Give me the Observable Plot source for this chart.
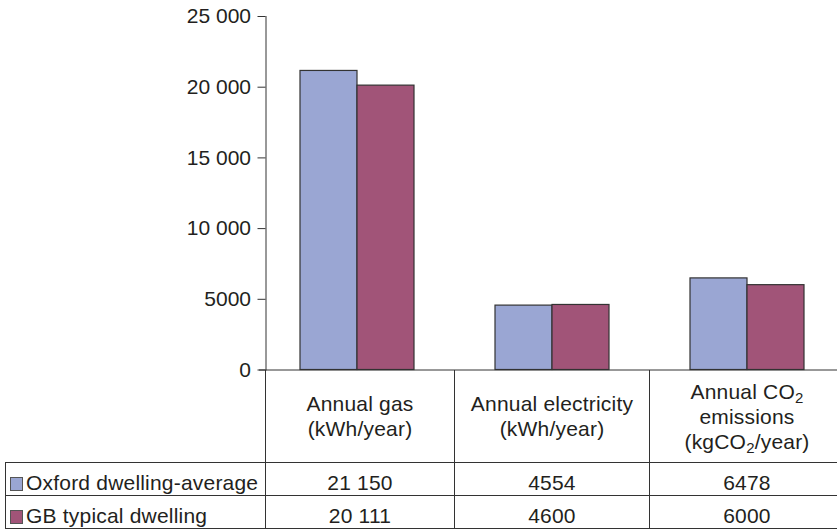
<!DOCTYPE html>
<html>
<head>
<meta charset="utf-8">
<script src="https://cdn.jsdelivr.net/npm/d3@7"></script>
<script src="https://cdn.jsdelivr.net/npm/@observablehq/plot@0.6"></script>
<style>
  body {
    margin: 0;
    background: #fff;
    width: 837px;
    height: 531px;
    overflow: hidden;
    font-family: "Liberation Sans", Arial, sans-serif;
    color: #231f20;
  }
  #chart svg { display: block; }
  table.data-table {
    border-collapse: collapse;
    table-layout: fixed;
    margin-left: 5px;
    font-size: 21px;
    letter-spacing: 0.2px;
  }
  table.data-table td {
    padding: 0;
    text-align: center;
    vertical-align: middle;
    white-space: nowrap;
    overflow: hidden;
  }
  table.data-table tr.head td {
    height: 92px;
    line-height: 25px;
    border-left: 1px solid #333;
    border-right: 1px solid #333;
  }
  table.data-table tr.head td.blank { border: none; }
  table.data-table tr.values td {
    height: 25px;
    padding-top: 7px;
    line-height: 24px;
    border: 1px solid #333;
  }
  table.data-table tr.values td.name {
    text-align: left;
    padding-left: 4px;
  }
  table.data-table sub {
    font-size: 15px;
    line-height: 0;
    vertical-align: -4px;
  }
  .swatch {
    display: inline-block;
    width: 11px;
    height: 12px;
    border: 1px solid #555;
    margin-right: 3px;
    vertical-align: -1px;
  }
</style>
</head>
<body>
<div id="chart"></div>
<script>
// Household energy use and emissions: Oxford average vs GB typical dwelling
const categories = ["Annual gas", "Annual electricity", "Annual CO₂ emissions"];
const headerLines = [
  ["Annual gas", "(kWh/year)"],
  ["Annual electricity", "(kWh/year)"],
  ["Annual CO₂", "emissions", "(kgCO₂/year)"]
];
const seriesNames = ["Oxford dwelling-average", "GB typical dwelling"];
const oxfordValues = [21150, 4554, 6478];
const gbValues = [20111, 4600, 6000];
const yTicks = [0, 5000, 10000, 15000, 20000, 25000];
const seriesColors = ["#9aa6d3", "#a15478"];

// numbers of five digits or more get a space as thousands separator
const fmt = d => d >= 10000 ? d3.format(",")(d).replace(/,/g, " ") : String(d);

const rows = [];
categories.forEach((c, i) => {
  rows.push({category: c, series: seriesNames[0], value: oxfordValues[i]});
  rows.push({category: c, series: seriesNames[1], value: gbValues[i]});
});

// the value axis sits a little inside the first category band
const bandStart = 258.5;
const bandEnd = 843.5;
const axisX = 265;
const axisShift = axisX - bandStart;

const chart = Plot.plot({
  width: 837,
  height: 370,
  marginLeft: axisX,
  marginRight: 0,
  marginTop: 16,
  marginBottom: 0.5,
  style: {
    fontFamily: '"Liberation Sans", Arial, sans-serif',
    fontSize: "21px",
    color: "#231f20",
    background: "#fff",
    overflow: "visible"
  },
  fx: {domain: categories, range: [bandStart, bandEnd], padding: 0, axis: null},
  x: {domain: seriesNames, paddingInner: 0, paddingOuter: 0.71, axis: null},
  y: {domain: [0, 25000], axis: null},
  color: {domain: seriesNames, range: seriesColors},
  marks: [
    Plot.barY(rows, {
      fx: "category",
      x: "series",
      y: "value",
      fill: "series",
      stroke: "#333",
      strokeWidth: 1.2,
      inset: 0
    }),
    Plot.ruleY([0], {stroke: "#333", strokeWidth: 1}),
    Plot.frame({anchor: "left", facetAnchor: "left", dx: axisShift, stroke: "#333"}),
    Plot.axisY({
      ticks: yTicks,
      tickFormat: fmt,
      tickSize: 8,
      tickPadding: 7,
      label: null,
      dx: axisShift,
      stroke: "#333"
    })
  ]
});

document.getElementById("chart").appendChild(chart);

// Data table below the plot; column edges follow the facet bands,
// with the first data column starting at the y axis
const fxScale = chart.scale("fx");
const band = fxScale.bandwidth;
const colorScale = chart.scale("color");
const edges = categories.map(c => fxScale.apply(c)).concat([fxScale.apply(categories[categories.length - 1]) + band]);
edges[0] = axisX;

const sub2 = s => s.replace(/₂/g, "<sub>2</sub>");

const table = document.createElement("table");
table.className = "data-table";
const colgroup = document.createElement("colgroup");
const firstCol = document.createElement("col");
firstCol.style.width = (axisX - 5) + "px";
colgroup.appendChild(firstCol);
categories.forEach((c, i) => {
  const col = document.createElement("col");
  col.style.width = (edges[i + 1] - edges[i]) + "px";
  colgroup.appendChild(col);
});
table.appendChild(colgroup);
table.style.width = (edges[edges.length - 1] - 5) + "px";

const head = document.createElement("tr");
head.className = "head";
const blank = document.createElement("td");
blank.className = "blank";
head.appendChild(blank);
headerLines.forEach(lines => {
  const td = document.createElement("td");
  td.innerHTML = lines.map(sub2).join("<br>");
  head.appendChild(td);
});
table.appendChild(head);

[oxfordValues, gbValues].forEach((vals, s) => {
  const tr = document.createElement("tr");
  tr.className = "values";
  const name = document.createElement("td");
  name.className = "name";
  const sw = document.createElement("span");
  sw.className = "swatch";
  sw.style.background = colorScale.apply(seriesNames[s]);
  name.appendChild(sw);
  name.appendChild(document.createTextNode(seriesNames[s]));
  tr.appendChild(name);
  vals.forEach(v => {
    const td = document.createElement("td");
    td.textContent = fmt(v);
    tr.appendChild(td);
  });
  table.appendChild(tr);
});

document.body.appendChild(table);
</script>
</body>
</html>
